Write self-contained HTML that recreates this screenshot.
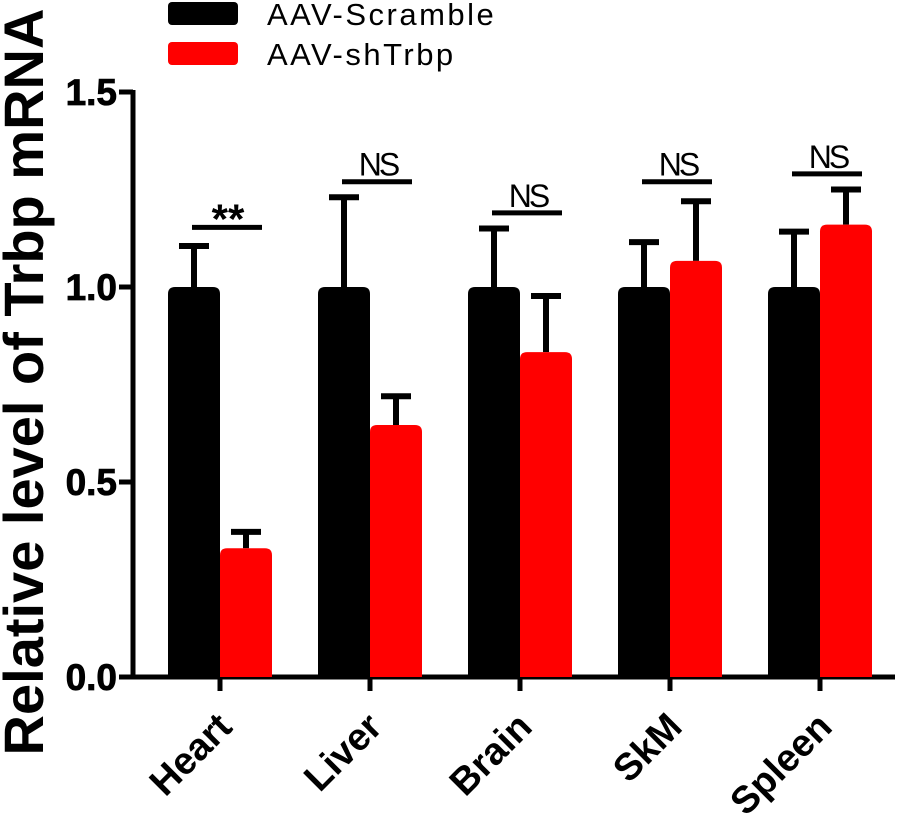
<!DOCTYPE html>
<html><head><meta charset="utf-8"><style>
body{margin:0;background:#fff;}
svg{display:block;font-family:"Liberation Sans",Arial,sans-serif;}
</style></head><body>
<svg id="chart" width="900" height="825" viewBox="0 0 900 825"></svg>
<script>
const categories=["Heart","Liver","Brain","SkM","Spleen"];
const scrambleValues=[1,1,1,1,1];
const scrambleErr=[0.105,0.23,0.15,0.115,0.142];
const shValues=[0.33,0.646,0.833,1.067,1.16];
const shErr=[0.042,0.074,0.144,0.153,0.09];
const sigLabels=["**","NS","NS","NS","NS"];
const sigLevels=[1.153,1.27,1.19,1.27,1.29];
const yTicks=[0,0.5,1,1.5];
const yTickLabels=["0.0","0.5","1.0","1.5"];

const NS="http://www.w3.org/2000/svg";
const svg=document.getElementById('chart');
const y0=677,pxPer=390,axisX=133,axisRight=895;
const y=v=>y0-v*pxPer;
const groupX=i=>220+i*150;
const barW=52;
function el(tag,attrs,parent){const e=document.createElementNS(NS,tag);for(const k in attrs)e.setAttribute(k,attrs[k]);(parent||svg).appendChild(e);return e;}

const ax=el('path',{d:`M${axisX} ${y(1.5)-2} V${y0} H${axisRight}`,stroke:'#000','stroke-width':5,fill:'none'});


yTicks.forEach((t,i)=>{
  const tk=el('line',{x1:axisX-14,x2:axisX,y1:y(t),y2:y(t),stroke:'#000','stroke-width':5});
  
  
  const tx=el('text',{x:axisX-16,y:y(t)+13,'text-anchor':'end','font-size':37,'font-weight':'bold',stroke:'#000','stroke-width':0.8});
  tx.textContent=yTickLabels[i];
  
  
});
const yt=el('text',{transform:'translate(43,382) rotate(-90)','text-anchor':'middle','font-size':56,'font-weight':'bold'});
yt.textContent='Relative level of Trbp mRNA';



function bar(cx,v,e,color,name){
  const top=y(v),r=7;
  const eb=el('path',{d:`M${cx} ${top} V${y(v+e)} M${cx-15} ${y(v+e)} H${cx+15}`,stroke:'#000','stroke-width':6,fill:'none'});
  
  
  const b=el('path',{d:`M${cx-barW/2} ${y0} V${top+r} Q${cx-barW/2} ${top} ${cx-barW/2+r} ${top} H${cx+barW/2-r} Q${cx+barW/2} ${top} ${cx+barW/2} ${top+r} V${y0} Z`,fill:color});
  
  
}
categories.forEach((c,i)=>{
  const gx=groupX(i);
  bar(gx-barW/2,scrambleValues[i],scrambleErr[i],'#000','bar-scramble-'+c.toLowerCase());
  bar(gx+barW/2,shValues[i],shErr[i],'#ff0000','bar-shtrbp-'+c.toLowerCase());
  const tk=el('line',{x1:gx,x2:gx,y1:y0,y2:y0+14,stroke:'#000','stroke-width':5});
  
  
  const lx=el('text',{transform:`translate(${gx+14},${y0+52}) rotate(-45)`,'text-anchor':'end','font-size':38,'font-weight':'bold'});
  lx.textContent=c;
  
  
  const sy=y(sigLevels[i]);
  const sl=el('line',{x1:gx-28,x2:gx+42,y1:sy,y2:sy,stroke:'#000','stroke-width':5});
  
  
  const star=sigLabels[i]=='**';
  const st=el('text',{x:gx+8,y:star?sy+6:sy-6,'text-anchor':'middle','font-size':star?42:32,'font-weight':star?'bold':'normal','letter-spacing':star?0:-3});
  st.textContent=sigLabels[i];
  
  
});
[["#000","AAV-Scramble",0],["#ff0000","AAV-shTrbp",40]].forEach(([c,t,dy])=>{
  const r=el('rect',{x:168,y:dy+2,width:70,height:23,rx:4,fill:c});
  
  
  const tx=el('text',{x:267,y:dy+25,'font-size':31,'letter-spacing':2.5});
  tx.textContent=t;
  
  
});
</script>
</body></html>
